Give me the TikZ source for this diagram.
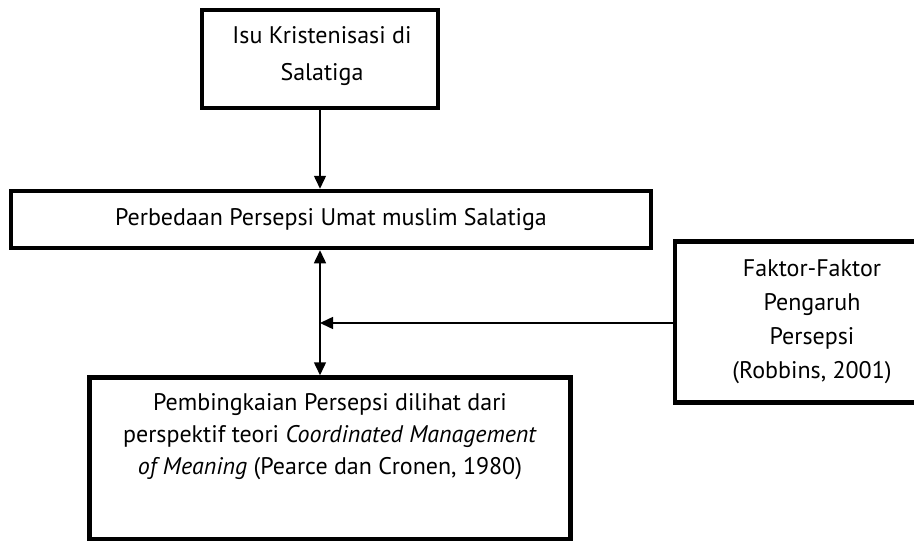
\documentclass[tikz,border=0pt]{standalone}
\usepackage{fontspec}
\setmainfont{PT Sans}
\usetikzlibrary{arrows.meta}
\tikzset{
  box/.style={draw, line width=4.5pt, inner sep=0pt, align=center},
  txt/.style={align=center, inner sep=0pt, font=\fontsize{24}{32}\selectfont},
  tip/.style={-{Triangle[length=13pt,width=12pt]}},
  conn/.style={line width=1.5pt, tip},
  conn2/.style={line width=1.5pt, {Triangle[length=13pt,width=12pt]}-{Triangle[length=13pt,width=12pt]}},
}
\begin{document}
\begin{tikzpicture}[x=1pt,y=-1pt]
\useasboundingbox (0,0) rectangle (914,541);
\clip (0,0) rectangle (914,541);
% boxes
\node[box, minimum width=236pt, minimum height=98pt] (isu) at (320,59) {};
\node[txt, font=\fontsize{24}{37}\selectfont] (isutxt) at (322,56) {Isu Kristenisasi di\\Salatiga};
\node[box, txt, minimum width=640pt, minimum height=57pt] (beda) at (331,219.5) {Perbedaan Persepsi Umat muslim Salatiga};
\node[box, txt, font=\fontsize{24}{34}\selectfont, minimum width=274pt, minimum height=161pt] (faktor) at (812,322) {Faktor-Faktor\\Pengaruh\\Persepsi\\(Robbins, 2001)};
\node[box, minimum width=481pt, minimum height=162pt] (bingkai) at (330,458.5) {};
\node[txt] (bingkaitxt) at (330,437) {Pembingkaian Persepsi dilihat dari\\perspektif teori \textit{Coordinated Management}\\\textit{of Meaning} (Pearce dan Cronen, 1980)};
% connectors
\coordinate (ax) at (320,0);
\coordinate (join) at (320,323);
\draw[conn] (isu.south -| ax) -- (beda.north -| ax);
\draw[conn2] (beda.south -| ax) -- (bingkai.north -| ax);
\draw[conn] (faktor.west |- join) -- (join);
\end{tikzpicture}
\end{document}
